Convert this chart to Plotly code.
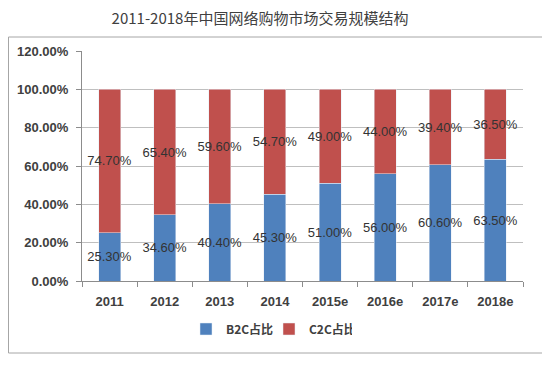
import plotly.graph_objects as go

years = ["2011", "2012", "2013", "2014", "2015e", "2016e", "2017e", "2018e"]
b2c = [25.3, 34.6, 40.4, 45.3, 51.0, 56.0, 60.6, 63.5]
c2c = [74.7, 65.4, 59.6, 54.7, 49.0, 44.0, 39.4, 36.5]
y_ticks = [0, 20, 40, 60, 80, 100, 120]
y_tick_labels = ["0.00%", "20.00%", "40.00%", "60.00%", "80.00%", "100.00%", "120.00%"]

lab_font = dict(family="Liberation Sans, Arial, sans-serif", size=13, color="#333333")

fig = go.Figure()
fig.add_trace(go.Bar(
    x=years, y=b2c, name="B2C占比", marker_color="#4F81BD",
    text=[f"{v:.2f}%" for v in b2c], textposition="inside",
    insidetextanchor="middle", constraintext="none", textfont=lab_font,
    textangle=0, legendwidth=38,
))
fig.add_trace(go.Bar(
    x=years, y=c2c, name="C2C占比", marker_color="#C0504D",
    text=[f"{v:.2f}%" for v in c2c], textposition="inside",
    insidetextanchor="middle", constraintext="none", textfont=lab_font,
    textangle=0, legendwidth=38,
))

# page body has an 8px margin; figure coordinates = page coordinates - 8
OFF = 8
W, H = 550 - OFF, 365 - OFF
L, R, T, B = 82 - OFF, 27, 51 - OFF, 84
pw, ph = W - L - R, H - T - B

def px(x):
    return (x - OFF - L) / pw

def py(y):
    return (H - B - (y - OFF)) / ph

tick_font = dict(family="Liberation Sans, Arial, sans-serif", size=13, color="#404040", weight="bold")

fig.update_layout(
    width=W, height=H,
    margin=dict(l=L, r=R, t=T, b=B, autoexpand=False),
    barmode="stack", bargap=0.6,
    paper_bgcolor="white", plot_bgcolor="white",
    title=dict(text="2011-2018年中国网络购物市场交易规模结构",
               x=(260 - OFF) / W, xref="container", xanchor="center",
               y=1 - (19 - OFF) / H, yref="container", yanchor="middle",
               font=dict(family="Noto Sans CJK SC, sans-serif", size=15, color="#404040")),
    xaxis=dict(type="category", showline=True, linecolor="#8c8c8c", linewidth=1,
               ticks="outside", tickson="boundaries", ticklen=5, tickcolor="#8c8c8c",
               tickfont=tick_font, ticklabelstandoff=8,
               showgrid=False),
    yaxis=dict(range=[0, 120], tickvals=y_ticks, ticktext=y_tick_labels,
               showline=True, linecolor="#8c8c8c", linewidth=1,
               ticks="outside", ticklen=5, tickcolor="#8c8c8c",
               showgrid=True, gridcolor="#bfbfbf", gridwidth=1, zeroline=False,
               tickfont=tick_font, ticklabelstandoff=5),
    legend=dict(orientation="h", x=px(186), xanchor="left", y=py(329), yanchor="middle",
                font=dict(family="Noto Sans CJK SC, sans-serif", size=12, color="#404040", weight="bold"),
                itemwidth=30, traceorder="normal", tracegroupgap=0),
    uniformtext=dict(mode=False),
    shapes=[dict(type="rect", xref="paper", yref="paper",
                 x0=px(8.5), x1=px(547), y0=py(353), y1=py(37),
                 line=dict(color="#a6a6a6", width=1), fillcolor="rgba(0,0,0,0)", layer="below")],
)

fig.write_html("out.html")
